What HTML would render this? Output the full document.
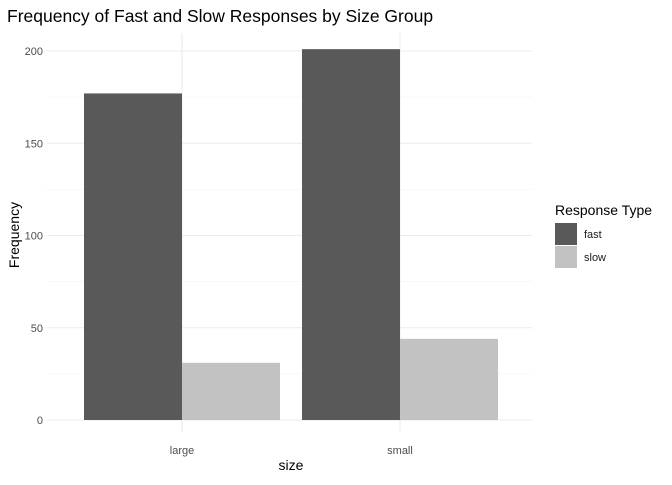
<!DOCTYPE html>
<html><head><meta charset="utf-8"><style>
body{margin:0;background:#fff;font-family:"Liberation Sans",sans-serif}
</style></head><body>
<svg width="672" height="480" xmlns="http://www.w3.org/2000/svg">
<rect width="672" height="480" fill="#fff"/>
<text x="7" y="22" font-size="17.5" fill="#000">Frequency of Fast and Slow Responses by Size Group</text>
<g id="grid"></g>
<g id="bars"></g>
<g id="axes"></g>
<text x="291" y="470" font-size="14" text-anchor="middle">size</text>
<text transform="translate(19,235) rotate(-90)" font-size="14" text-anchor="middle">Frequency</text>
<g>
<text x="555" y="215" font-size="14">Response Type</text>
<rect x="555" y="223" width="22" height="22" fill="#595959"/>
<text x="584" y="238" font-size="11" fill="#1a1a1a">fast</text>
<rect x="555" y="246" width="22" height="22" fill="#c2c2c2"/>
<text x="584" y="261" font-size="11" fill="#1a1a1a">slow</text>
</g>
</svg>
<script>
const categories=["large","small"];
const fastValues=[177,201];
const slowValues=[31,44];
const yTicks=[0,50,100,150,200];
const ns="http://www.w3.org/2000/svg";
const y0=420, yScale=(420-51)/200;
const y=v=>y0-v*yScale;
const x=i=>182+i*218;
const bw=98;
function mk(tag,attrs,parent){const e=document.createElementNS(ns,tag);for(const k in attrs)e.setAttribute(k,attrs[k]);document.getElementById(parent).appendChild(e);return e;}
for(let v=25;v<=200;v+=50){const l=mk('line',{x1:47,x2:532,y1:y(v),y2:y(v),stroke:'#f0f0f0','stroke-width':0.6},'grid');

}
yTicks.forEach(v=>{const l=mk('line',{x1:47,x2:532,y1:y(v),y2:y(v),stroke:'#ebebeb','stroke-width':1.1},'grid');


const t=mk('text',{x:43,y:y(v)+4,'font-size':11,'text-anchor':'end',fill:'#4d4d4d'},'axes');t.textContent=v;

});
categories.forEach((c,i)=>{const l=mk('line',{x1:x(i),x2:x(i),y1:33,y2:432,stroke:'#ebebeb','stroke-width':1.1},'grid');


const t=mk('text',{x:x(i),y:454,'font-size':11,'text-anchor':'middle',fill:'#4d4d4d'},'axes');t.textContent=c;


const b1=mk('rect',{x:x(i)-bw,y:y(fastValues[i]),width:bw,height:fastValues[i]*yScale,fill:'#595959'},'bars');


const b2=mk('rect',{x:x(i),y:y(slowValues[i]),width:bw,height:slowValues[i]*yScale,fill:'#c2c2c2'},'bars');

});
</script>
</body></html>
